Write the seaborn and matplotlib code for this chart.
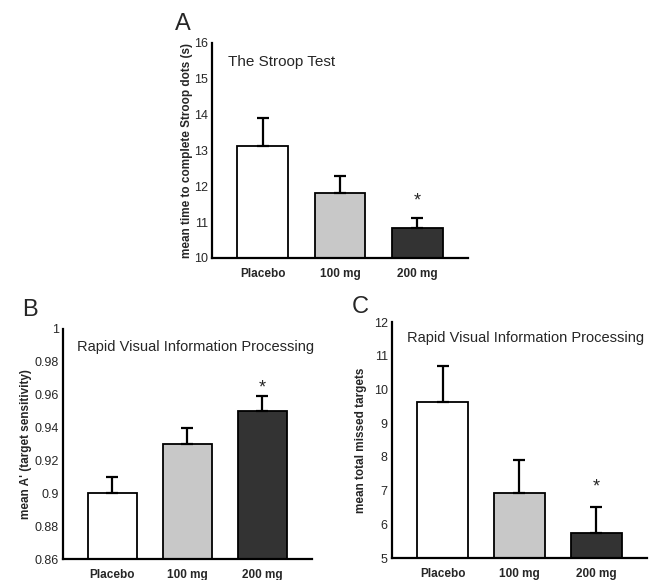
import matplotlib
matplotlib.use("Agg")
import matplotlib.pyplot as plt
import numpy as np
import seaborn as sns
from matplotlib.ticker import MultipleLocator, FormatStrFormatter

doses = ["Placebo", "100 mg", "200 mg"]
bar_colors = ["#ffffff", "#c8c8c8", "#333333"]

# A - Stroop
stroop_mean = [13.13, 11.82, 10.83]
stroop_err = [0.77, 0.48, 0.28]
# B - RVIP A'
rvip_a_mean = [0.900, 0.930, 0.950]
rvip_a_err = [0.010, 0.010, 0.009]
# C - RVIP missed targets
rvip_miss_mean = [9.62, 6.93, 5.73]
rvip_miss_err = [1.08, 0.99, 0.77]

sig_star_y = [11.6, 0.964, 7.1]   # height of '*' over the 200 mg bar

sns.set_style("white")
plt.rcParams["font.family"] = ["Liberation Sans", "DejaVu Sans"]

fig = plt.figure(figsize=(6.52, 5.80), dpi=100)


def draw_panel(rect, means, errs, ylim, major, minor, ylabel, title, title_pos,
               star_y, label_x, title_size=10.5, fmt="%g"):
    ax = fig.add_axes(rect)
    sns.barplot(x=doses, y=means, hue=doses, palette=bar_colors, width=0.66,
                edgecolor="black", linewidth=1.3, legend=False, ax=ax)
    ax.errorbar(range(len(doses)), means, yerr=[np.zeros(len(errs)), errs],
                fmt="none", ecolor="black", elinewidth=1.6, capsize=4, capthick=1.6)
    ax.set_xlim(-0.66, 2.66)
    ax.set_ylim(*ylim)
    ax.yaxis.set_major_locator(MultipleLocator(major))
    ax.yaxis.set_minor_locator(MultipleLocator(minor))
    ax.yaxis.set_major_formatter(FormatStrFormatter(fmt))
    ax.tick_params(axis="y", which="major", direction="in", length=3.5, width=1.3,
                   labelsize=9, pad=3)
    ax.tick_params(axis="y", which="minor", direction="in", length=1.5, width=1.3)
    ax.tick_params(axis="x", length=0, pad=7)
    for lbl in ax.get_xticklabels():
        lbl.set_fontweight("bold")
        lbl.set_fontsize(8.5)
    for side in ["top", "right"]:
        ax.spines[side].set_visible(False)
    for side in ["left", "bottom"]:
        ax.spines[side].set_linewidth(1.6)
        ax.spines[side].set_color("black")
    ax.set_xlabel("")
    ax.set_ylabel(ylabel, fontsize=8.5, fontweight="bold")
    ax.yaxis.set_label_coords(label_x, 0.5)
    ax.text(title_pos[0], title_pos[1], title, transform=ax.transAxes,
            fontsize=title_size, ha="left", va="center")
    ax.text(2, star_y, "*", fontsize=13, ha="center", va="center")
    return ax


draw_panel([0.3252, 0.5552, 0.3926, 0.3707], stroop_mean, stroop_err,
           (10, 16), 1, 0.5, "mean time to complete Stroop dots (s)",
           "The Stroop Test", (0.0625, 0.912), sig_star_y[0], -0.074, title_size=11)
draw_panel([0.0966, 0.0362, 0.3819, 0.3966], rvip_a_mean, rvip_a_err,
           (0.86, 1.0), 0.02, 0.01, "mean A' (target sensitivity)",
           "Rapid Visual Information Processing", (0.056, 0.922), sig_star_y[1], -0.124)
draw_panel([0.6012, 0.0379, 0.3911, 0.4069], rvip_miss_mean, rvip_miss_err,
           (5, 12), 1, 0.5, "mean total missed targets",
           "Rapid Visual Information Processing", (0.059, 0.932), sig_star_y[2], -0.098)

fig.text(0.268, 0.959, "A", fontsize=17, ha="left", va="center")
fig.text(0.034, 0.466, "B", fontsize=17, ha="left", va="center")
fig.text(0.540, 0.471, "C", fontsize=17, ha="left", va="center")

fig.savefig("out.png", dpi=100)
